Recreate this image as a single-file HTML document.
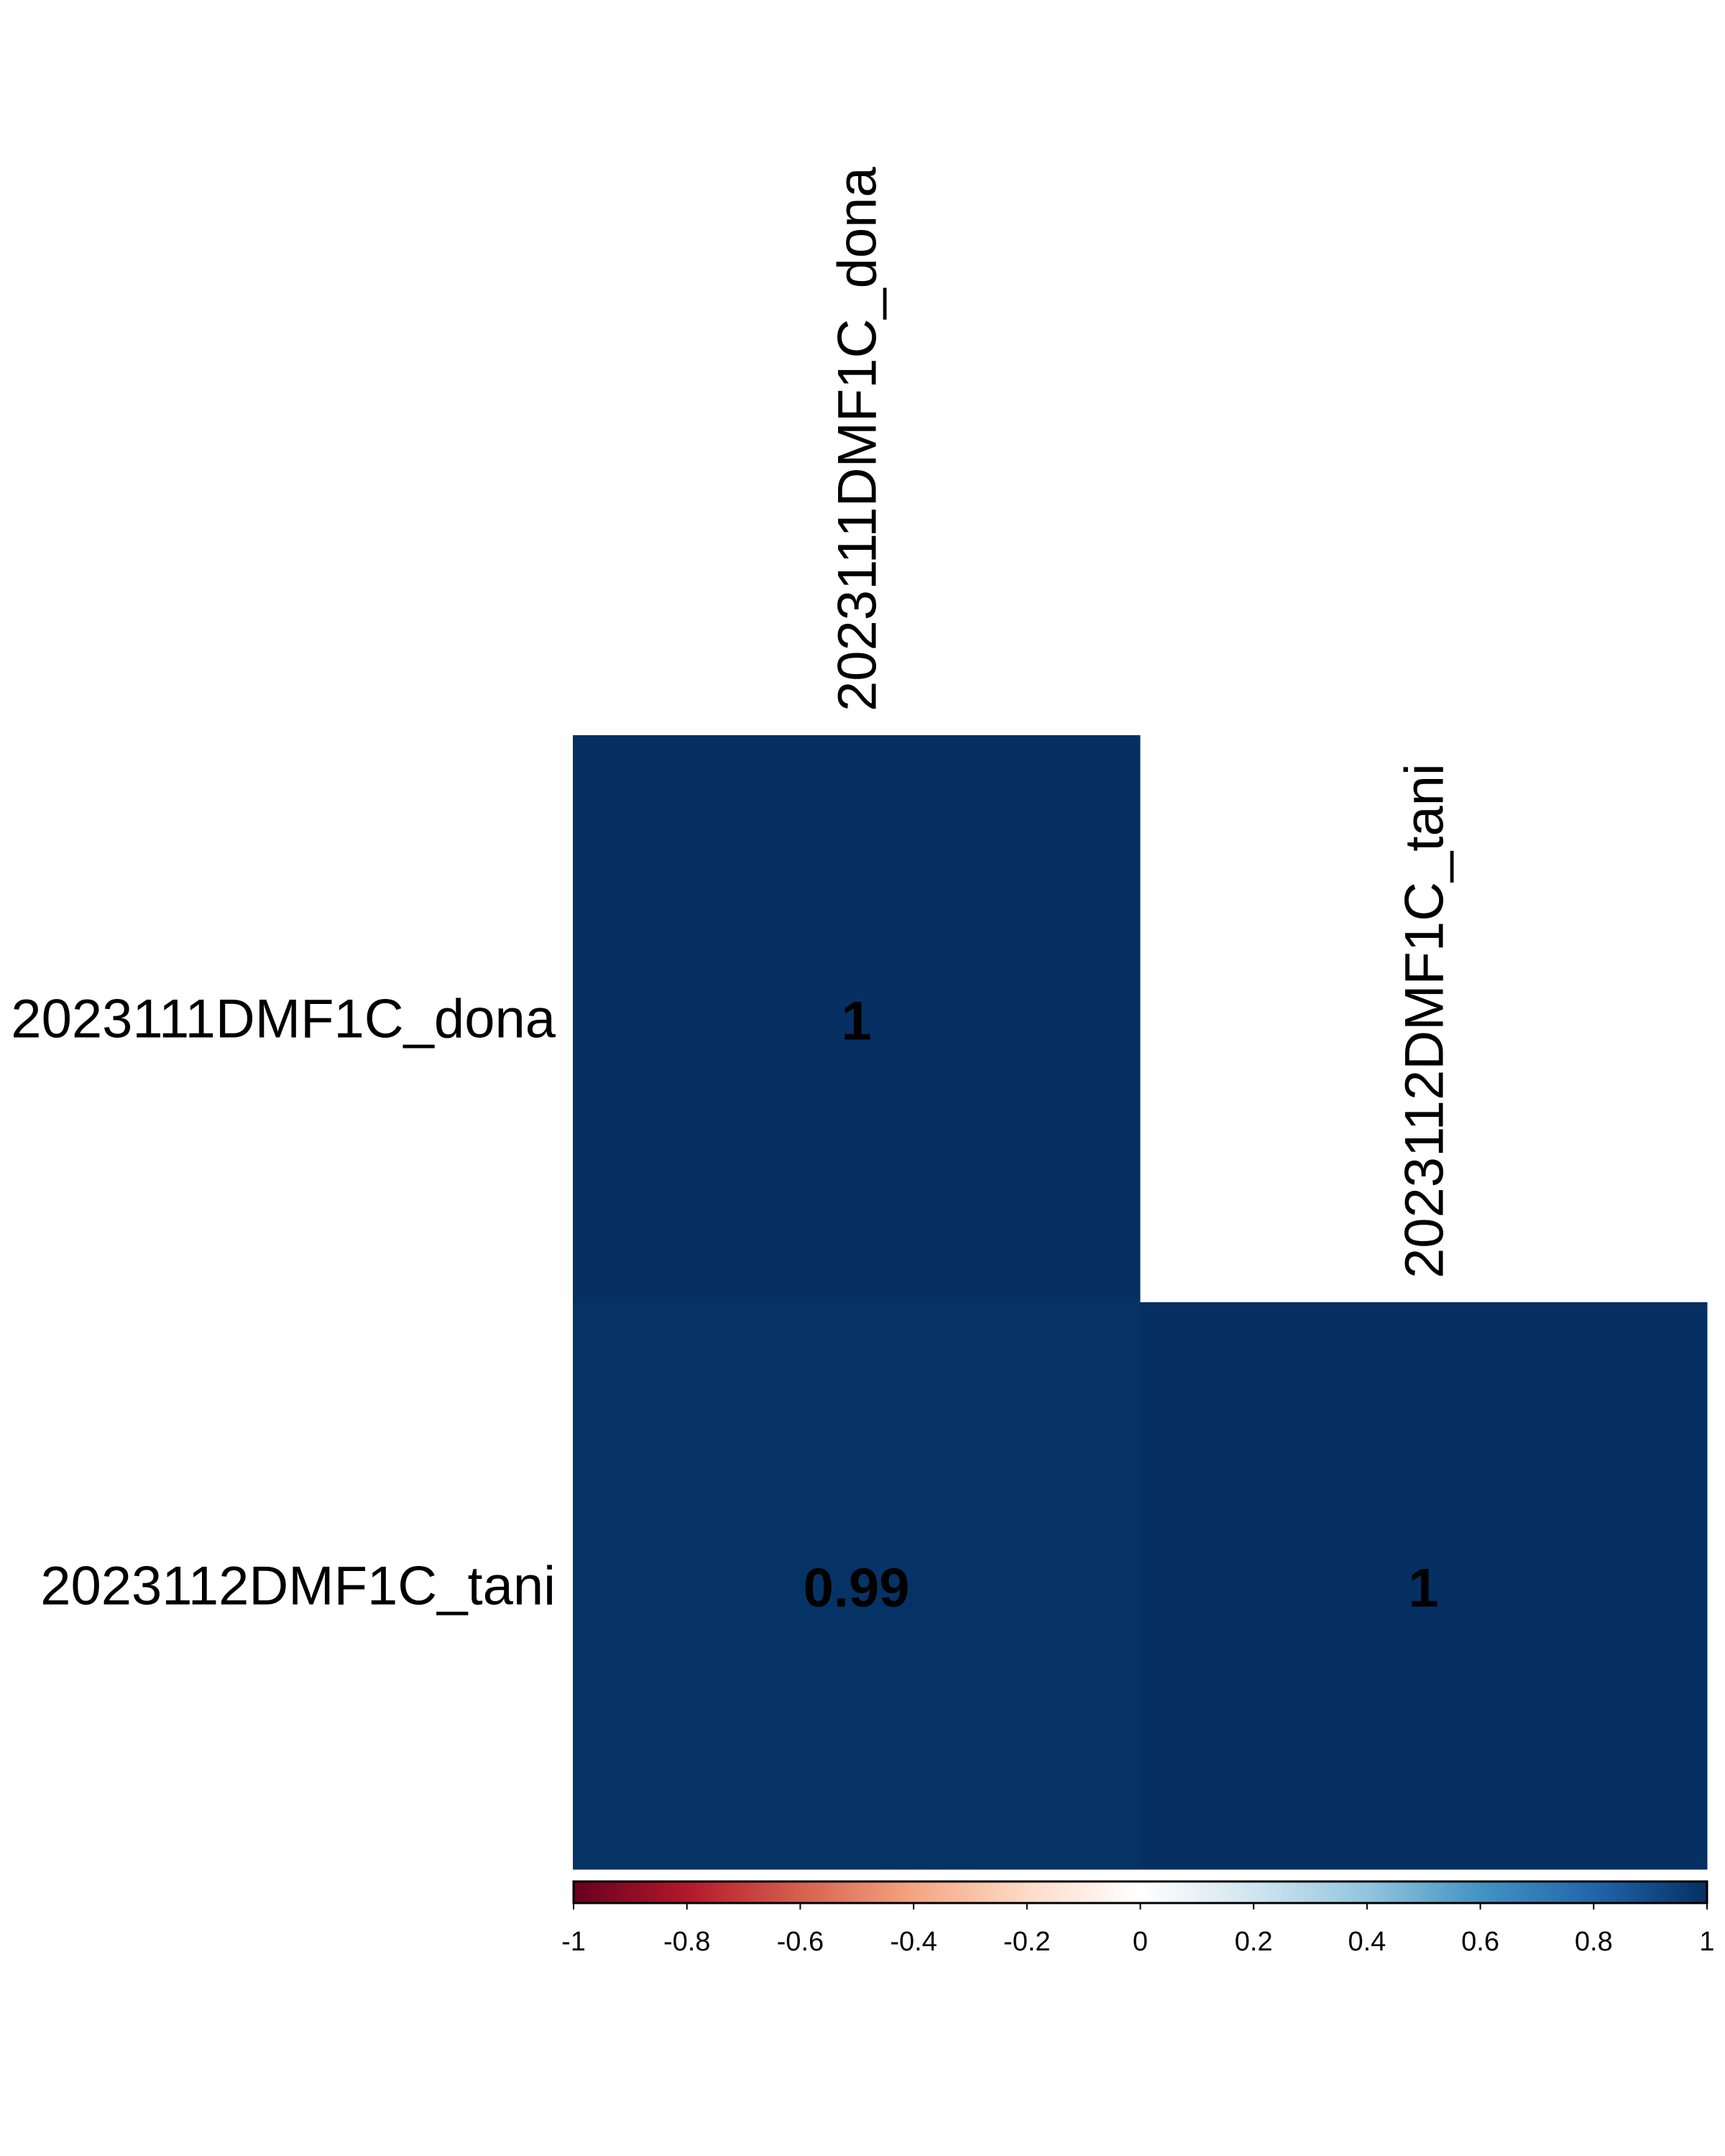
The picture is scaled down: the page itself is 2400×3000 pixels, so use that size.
<!DOCTYPE html>
<html><head><meta charset="utf-8"><style>
html,body{margin:0;padding:0;background:#fff;}
svg{display:block;font-family:"Liberation Sans",Arial,sans-serif;}
</style></head><body>
<svg id="chart" width="2400" height="3000" viewBox="0 0 2400 3000" xmlns="http://www.w3.org/2000/svg">
<defs>
<linearGradient id="rdbu" x1="0" x2="1" y1="0" y2="0">
<stop offset="0" stop-color="#67001f"/>
<stop offset="0.1" stop-color="#b2182b"/>
<stop offset="0.2" stop-color="#d6604d"/>
<stop offset="0.3" stop-color="#f4a582"/>
<stop offset="0.4" stop-color="#fddbc7"/>
<stop offset="0.5" stop-color="#ffffff"/>
<stop offset="0.6" stop-color="#d1e5f0"/>
<stop offset="0.7" stop-color="#92c5de"/>
<stop offset="0.8" stop-color="#4393c3"/>
<stop offset="0.9" stop-color="#2166ac"/>
<stop offset="1" stop-color="#053061"/>
</linearGradient>
</defs>
<g id="cells"></g>
<g id="labels"></g>
<g id="legend"></g>
</svg>
<script>
const categories = ["2023111DMF1C_dona", "2023112DMF1C_tani"];
const corrRow0 = [1, null];
const corrRow1 = [0.99, 1];
const corrLabels0 = ["1", ""];
const corrLabels1 = ["0.99", "1"];
const legendTicks = [-1, -0.8, -0.6, -0.4, -0.2, 0, 0.2, 0.4, 0.6, 0.8, 1];
const legendTickLabels = ["-1","-0.8","-0.6","-0.4","-0.2","0","0.2","0.4","0.6","0.8","1"];

const NS = "http://www.w3.org/2000/svg";
const left = 797, top0 = 1023, cell = 789;
const x = i => left + i * cell;
const y = j => top0 + j * cell;
const stops = [[-1,[103,0,31]],[-0.8,[178,24,43]],[-0.6,[214,96,77]],[-0.4,[244,165,130]],[-0.2,[253,219,199]],[0,[255,255,255]],[0.2,[209,229,240]],[0.4,[146,197,222]],[0.6,[67,147,195]],[0.8,[33,102,172]],[1,[5,48,97]]];
function color(v){
  for(let k=0;k<stops.length-1;k++){
    const a=stops[k], b=stops[k+1];
    if(v>=a[0]&&v<=b[0]){const t=(v-a[0])/(b[0]-a[0]);
      const c=a[1].map((q,i)=>Math.round(q+(b[1][i]-q)*t));
      return `rgb(${c[0]},${c[1]},${c[2]})`;}
  }
  return "#053061";
}
function mk(tag, attrs, parent){const e=document.createElementNS(NS,tag);for(const k in attrs)e.setAttribute(k,attrs[k]);parent.appendChild(e);return e;}
const cellsG=document.getElementById('cells');
const labelsG=document.getElementById('labels');
const legendG=document.getElementById('legend');
const rows=[corrRow0,corrRow1], rowLabels=[corrLabels0,corrLabels1];
rows.forEach((row,j)=>{
  row.forEach((v,i)=>{
    if(v===null) return;
    const r=mk('rect',{x:x(i),y:y(j),width:cell+0.5,height:cell+0.5,fill:color(v)},cellsG);
    
    
    const t=mk('text',{x:x(i)+cell/2,y:y(j)+cell/2+29,'text-anchor':'middle','font-size':76,'font-weight':'bold',fill:'#000'},cellsG);
    t.textContent=rowLabels[j][i];
    
    
  });
});
categories.forEach((c,j)=>{
  const t=mk('text',{x:773,y:y(j)+cell/2+26,'text-anchor':'end','font-size':76,fill:'#000'},labelsG);
  t.textContent=c;
  
  
  const cx=x(j)+cell/2+27, by=y(j)-33;
  const t2=mk('text',{x:cx,y:by,transform:`rotate(-90 ${cx} ${by})`,'font-size':76,fill:'#000'},labelsG);
  t2.textContent=c;
  
  
});
const lx0=798, lx1=2375, ly0=2618, ly1=2648;
const lx=v=>lx0+(v+1)/2*(lx1-lx0);
const bar=mk('rect',{x:lx0,y:ly0,width:lx1-lx0,height:ly1-ly0,fill:'url(#rdbu)',stroke:'#000','stroke-width':3},legendG);


legendTicks.forEach((v,i)=>{
  const l=mk('line',{x1:lx(v),x2:lx(v),y1:ly1,y2:ly1+9,stroke:'#000','stroke-width':2},legendG);
  
  
  const t=mk('text',{x:lx(v),y:2714,'text-anchor':'middle','font-size':38,fill:'#000'},legendG);
  t.textContent=legendTickLabels[i];
  
  
});
</script>
</body></html>
